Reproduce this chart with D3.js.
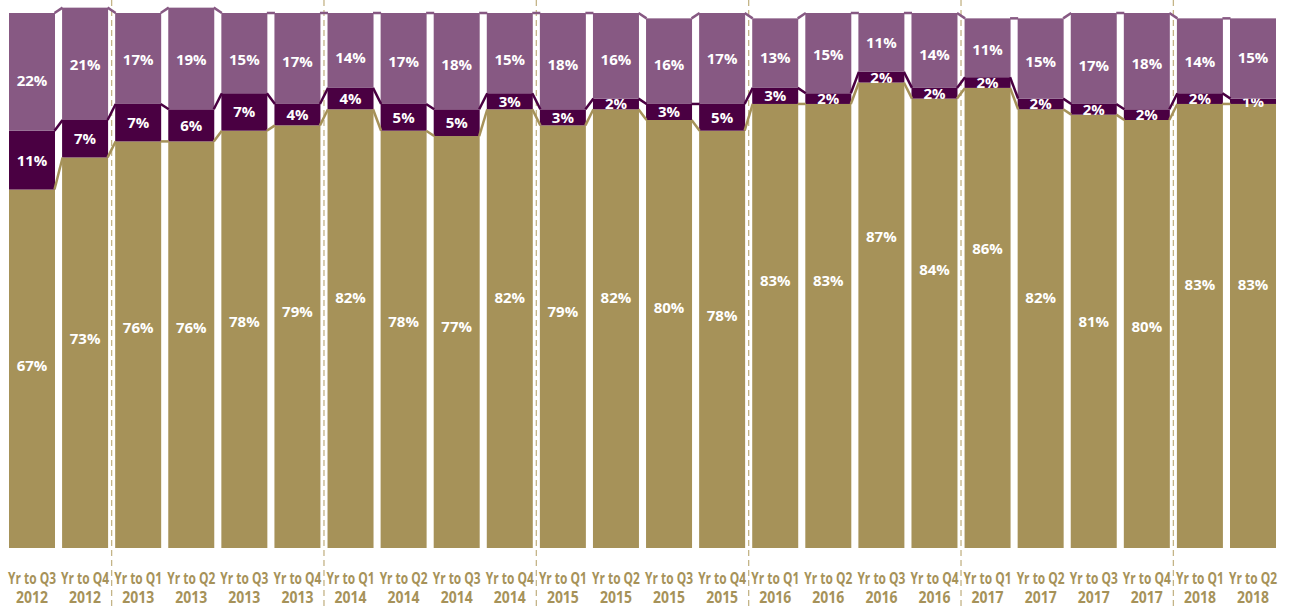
<!DOCTYPE html>
<html>
<head>
<meta charset="utf-8">
<script src="https://cdn.jsdelivr.net/npm/d3@7"></script>
<style>
  body { margin: 0; background: #fff; }
  svg { display: block; }
</style>
</head>
<body>
<div class="chart"></div>
<script>
const width = 1292;
const height = 608;

// category labels
const quarters = ["Q3","Q4","Q1","Q2","Q3","Q4","Q1","Q2","Q3","Q4","Q1","Q2",
                  "Q3","Q4","Q1","Q2","Q3","Q4","Q1","Q2","Q3","Q4","Q1","Q2"];
const years = ["2012","2012","2013","2013","2013","2013","2014","2014","2014","2014","2015","2015",
               "2015","2015","2016","2016","2016","2016","2017","2017","2017","2017","2018","2018"];

// series values (%)
const bottomShare = [67,73,76,76,78,79,82,78,77,82,79,82,80,78,83,83,87,84,86,82,81,80,83,83];
const middleShare = [11,7,7,6,7,4,4,5,5,3,3,2,3,5,3,2,2,2,2,2,2,2,2,1];
const topShare    = [22,21,17,19,15,17,14,17,18,15,18,16,16,17,13,15,11,14,11,15,17,18,14,15];

// where the original placed its bottom / top labels (in % of the value axis)
const bottomLabelAt = [34.1,39.2,41.2,41.2,42.3,44.2,46.8,42.3,41.3,46.8,44.2,46.8,
                       44.9,43.4,49.9,49.9,58.2,52.1,55.9,46.8,42.4,41.3,49.3,49.3];
const topLabelAt = [87.3,90.3,91.2,91.2,91.2,91.0,91.7,91.0,90.3,91.3,90.4,91.2,
                    90.4,91.5,91.6,92.3,94.5,92.3,93.1,91.0,90.1,90.6,91.0,91.6];

const keys = ["bottom","middle","top"];
const colors = {bottom: "#a69259", middle: "#4a0042", top: "#875983"};

const rows = quarters.map((q, i) => ({
    id: i,
    quarter: q,
    year: years[i],
    bottom: bottomShare[i],
    middle: middleShare[i],
    top: topShare[i]
}));

const svg = d3.select(".chart").append("svg")
    .attr("width", width)
    .attr("height", height);

const x = d3.scaleBand()
    .domain(rows.map(d => d.id))
    .range([5.46, 1279.54])
    .paddingInner(0.1335)
    .paddingOuter(0.1335 / 2);

const y = d3.scaleLinear()
    .domain([0, 100])
    .range([548, 13]);

const bw = x.bandwidth();
const gap = x.step() - bw;

const stacked = d3.stack().keys(keys)(rows);

// year separators
const yearStarts = rows.filter((d, i) => i > 0 && d.year !== rows[i - 1].year);
svg.append("g")
    .selectAll("line")
    .data(yearStarts)
    .join("line")
    .attr("x1", d => x(d.id) - gap / 2)
    .attr("x2", d => x(d.id) - gap / 2)
    .attr("y1", 0)
    .attr("y2", height)
    .attr("stroke", "#c4b487")
    .attr("stroke-width", 1.3)
    .attr("stroke-dasharray", "6,4");

// bars
const layers = svg.append("g")
    .selectAll("g")
    .data(stacked)
    .join("g")
    .attr("fill", d => colors[d.key]);

layers.selectAll("rect")
    .data(d => d)
    .join("rect")
    .attr("x", d => x(d.data.id))
    .attr("y", d => y(d[1]))
    .attr("width", bw)
    .attr("height", d => y(d[0]) - y(d[1]));

// series lines between bars
stacked.forEach(layer => {
    const segs = layer.slice(0, -1).map((d, i) => [d, layer[i + 1]]);
    svg.append("g")
        .selectAll("line")
        .data(segs)
        .join("line")
        .attr("x1", d => x(d[0].data.id) + bw - 0.5)
        .attr("y1", d => y(d[0][1]))
        .attr("x2", d => x(d[1].data.id) + 0.5)
        .attr("y2", d => y(d[1][1]))
        .attr("stroke", colors[layer.key])
        .attr("stroke-width", 2.5);
});

// value labels
function labelPos(key, d) {
    const i = d.data.id;
    if (key === "bottom") return y(bottomLabelAt[i]);
    if (key === "top") return y(topLabelAt[i]);
    return (y(d[0]) + y(d[1])) / 2;
}

layers.each(function(layer) {
    d3.select(this).selectAll("text")
        .data(layer)
        .join("text")
        .attr("x", d => x(d.data.id) + bw / 2)
        .attr("y", d => labelPos(layer.key, d))
        .attr("dy", "0.36em")
        .attr("text-anchor", "middle")
        .attr("fill", "#fff")
        .attr("font-family", "'Open Sans', sans-serif")
        .attr("font-weight", "bold")
        .attr("font-size", "15px")
        .text(d => (d[1] - d[0]) + "%");
});

// category axis - condensed look, squeezed horizontally
function squeezed(g, txt, yPos, maxW) {
    const t = g.append("text")
        .attr("text-anchor", "middle")
        .attr("fill", "#a69259")
        .attr("font-family", "'Open Sans', sans-serif")
        .attr("font-weight", "bold")
        .attr("font-size", "16px")
        .text(txt);
    const w = t.node().getComputedTextLength();
    const s = Math.min(1, maxW / w);
    t.attr("transform", `translate(0,${yPos}) scale(${s},1)`);
}

svg.append("g")
    .selectAll("g")
    .data(rows)
    .join("g")
    .attr("transform", d => `translate(${x(d.id) + bw / 2},0)`)
    .each(function(d) {
        const g = d3.select(this);
        squeezed(g, "Yr to " + d.quarter, 584, 48);
        squeezed(g, d.year, 603, 32);
    });
</script>
</body>
</html>
